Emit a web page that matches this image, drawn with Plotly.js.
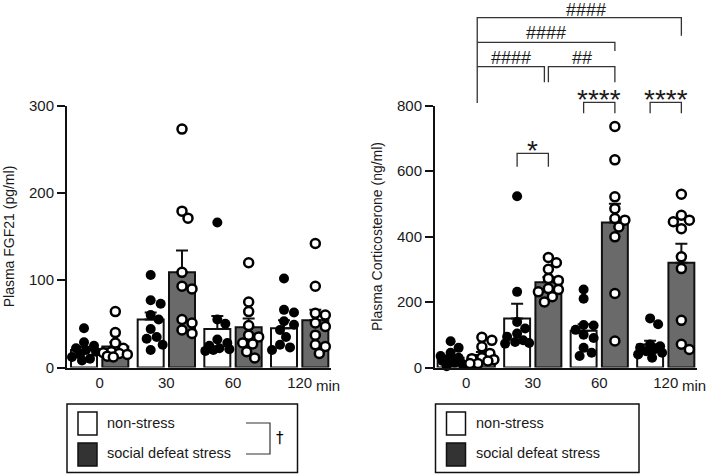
<!DOCTYPE html>
<html><head><meta charset="utf-8">
<script src="https://cdn.plot.ly/plotly-3.0.1.min.js"></script>
<style>html,body{margin:0;padding:0;background:#fff}#chart{width:709px;height:474px}</style>
</head><body><div id="chart"></div>
<script>
// ---------- data ----------
const timepoints = ['0', '30', '60', '120'];
const groupNames = ['non-stress', 'social defeat stress'];

const fgf21NonStressMean = [20, 55, 44, 45];
const fgf21NonStressSem  = [3.5, 8, 15, 9];
const fgf21StressMean    = [24, 109, 46, 54];
const fgf21StressSem     = [5, 25, 10, 12];
const fgf21NonStressPoints = [
  [45, 29, 25, 22, 20, 18, 15, 12, 10, 8],
  [106, 77, 73, 60, 55, 44, 35, 33, 26, 20],
  [166, 55, 50, 32, 28, 25, 22, 21, 20, 19],
  [102, 66, 63, 53, 49, 43, 35, 26, 23, 20]
];
const fgf21StressPoints = [
  [64, 40, 28, 22, 18, 17, 16, 15, 13, 12],
  [273, 179, 171, 109, 93, 90, 55, 51, 43, 39],
  [120, 75, 64, 48, 37, 35, 28, 27, 18, 11],
  [142, 93, 62, 60, 51, 47, 37, 26, 24, 16]
];

const corticoNonStressMean = [30, 150, 112, 70];
const corticoNonStressSem  = [7, 45, 20, 12];
const corticoStressMean    = [38, 260, 443, 320];
const corticoStressSem     = [9, 16, 57, 58];
const corticoNonStressPoints = [
  [80, 60, 45, 35, 30, 24, 20, 15, 10, 4],
  [523, 231, 139, 119, 104, 94, 83, 78, 75, 73],
  [238, 210, 130, 128, 115, 100, 90, 60, 45, 35],
  [150, 132, 70, 65, 60, 55, 50, 45, 40, 30]
];
const corticoStressPoints = [
  [92, 83, 63, 43, 30, 27, 24, 20, 12, 12],
  [336, 320, 300, 272, 266, 241, 238, 231, 216, 200],
  [736, 634, 521, 485, 455, 450, 429, 399, 226, 81],
  [529, 465, 450, 445, 424, 338, 302, 144, 71, 55]
];

const fgf21Ticks   = [0, 100, 200, 300];
const corticoTicks = [0, 200, 400, 600, 800];
const starLabels = ['*', '****', '****'];            // non-stress vs stress at 30, 60, 120
const hashLabels = ['####', '####', '####', '##'];   // 0-120, 0-60, 0-30, 30-60 (stress)
const interactionLabel = '\u2020';

// ---------- geometry ----------
const W = 709, H = 474;
const FONT = 'Liberation Sans, Arial, Helvetica, sans-serif';
const TXT = '#1a1a1a';
const px = p => p / W;
const py = p => (H - p) / H;
const yDom = [py(367.5), py(105.5)];
const xDom1 = [px(67), px(331)], xRange1 = [-0.49, 3.47];
const xDom2 = [px(435), px(697)], xRange2 = [-0.47, 3.47];
const OFF = 0.235, BARW = 0.39;
const idx = timepoints.map((t, i) => i);

function swarm(values, pxPerUnit, pxPerX, diam, maxHalf) {
  const placed = [];
  const order = values.map((v, i) => i).sort((a, b) => values[b] - values[a]);
  const offs = new Array(values.length).fill(0);
  const step = 2, n = Math.floor(maxHalf / step);
  for (const i of order) {
    const y = values[i] * pxPerUnit;
    let best = 0, bestScore = -Infinity;
    for (let k = 0; k <= 2 * n; k++) {
      const cand = (k % 2 === 1 ? 1 : -1) * Math.ceil(k / 2) * step;
      let minD = Infinity;
      for (const p of placed) minD = Math.min(minD, Math.hypot(p.x - cand, p.y - y));
      if (minD >= diam) { best = cand; break; }
      if (minD > bestScore) { bestScore = minD; best = cand; }
    }
    placed.push({x: best, y});
    offs[i] = best / pxPerX;
  }
  return offs;
}

function panelTraces(nsMean, nsSem, sMean, sSem, nsPts, sPts, xa, ya, xDom, xRange, yMax) {
  const pxPerX = (xDom[1] - xDom[0]) * W / (xRange[1] - xRange[0]);
  const pxPerUnit = (yDom[1] - yDom[0]) * H / yMax;
  const errStyle = {type: 'data', symmetric: false, color: '#111', thickness: 2, width: 6};
  const bars = [
    {type: 'bar', x: idx.map(i => i - OFF), y: nsMean, width: BARW, xaxis: xa, yaxis: ya,
     marker: {color: '#ffffff', line: {color: '#111', width: 2}},
     error_y: Object.assign({array: nsSem, arrayminus: nsSem.map(() => 0)}, errStyle),
     name: groupNames[0], showlegend: false, hoverinfo: 'skip'},
    {type: 'bar', x: idx.map(i => i + OFF), y: sMean, width: BARW, xaxis: xa, yaxis: ya,
     marker: {color: '#6a6a6a', line: {color: '#111', width: 2}},
     error_y: Object.assign({array: sSem, arrayminus: sSem.map(() => 0)}, errStyle),
     name: groupNames[1], showlegend: false, hoverinfo: 'skip'}
  ];
  function pts(arr, side, filled) {
    const xs = [], ys = [];
    arr.forEach((vals, g) => {
      const offs = swarm(vals, pxPerUnit, pxPerX, 9, 12);
      vals.forEach((v, j) => { xs.push(g + side * OFF + offs[j]); ys.push(v); });
    });
    return {type: 'scatter', mode: 'markers', x: xs, y: ys, xaxis: xa, yaxis: ya, cliponaxis: false,
      showlegend: false, hoverinfo: 'skip',
      marker: filled ? {size: 10, color: '#000', line: {width: 0}}
                     : {size: 9, color: '#fff', line: {color: '#000', width: 2.5}}};
  }
  return bars.concat([pts(nsPts, -1, true), pts(sPts, 1, false)]);
}

const traces = []
  .concat(panelTraces(fgf21NonStressMean, fgf21NonStressSem, fgf21StressMean, fgf21StressSem,
                      fgf21NonStressPoints, fgf21StressPoints, 'x', 'y', xDom1, xRange1, 300))
  .concat(panelTraces(corticoNonStressMean, corticoNonStressSem, corticoStressMean, corticoStressSem,
                      corticoNonStressPoints, corticoStressPoints, 'x2', 'y2', xDom2, xRange2, 800));

function yAxis(title, ticks, anchor) {
  return {domain: yDom, anchor: anchor, range: [0, ticks[ticks.length - 1]], tickvals: ticks,
    showline: true, linewidth: 2, linecolor: '#111', ticks: 'outside', ticklen: 8, tickwidth: 2,
    tickcolor: '#111', showgrid: false, zeroline: false, fixedrange: true,
    tickfont: {family: FONT, size: 15, color: TXT},
    title: {text: title, font: {family: FONT, size: 14, color: TXT}, standoff: 11}};
}
function xAxis(dom, range, anchor) {
  return {domain: dom, range: range, anchor: anchor, tickvals: idx, ticktext: timepoints,
    showline: true, linewidth: 2, linecolor: '#111', ticks: '', showgrid: false, zeroline: false,
    fixedrange: true, tickfont: {family: FONT, size: 15, color: TXT}};
}

// ---------- brackets & legend ----------
const shapes = [], annotations = [];
function line(xref, pts, w, color) {
  const d = pts.map((p, i) => (i ? 'L' : 'M') + p[0] + ',' + p[1]).join(' ');
  shapes.push({type: 'path', xref: xref, yref: 'paper', path: d, line: {color: color || '#333', width: w || 1.3}});
}
function label(xref, x, yPx, text, size, xshift) {
  annotations.push({xref: xref, yref: 'paper', x: x, y: py(yPx), text: text, showarrow: false,
    xanchor: 'center', yanchor: 'middle', xshift: xshift || 0,
    font: {family: FONT, size: size, color: TXT}});
}
const ns = i => i - OFF, st = i => i + OFF;
// stress vs non-stress at 30, 60, 120
[[1, 166.7, 153.3, 150.5], [2, 113.3, 102.3, 99.5], [3, 113.3, 102.3, 99.5]].forEach((b, k) => {
  const g = b[0];
  line('x2', [[ns(g), py(b[1])], [ns(g), py(b[2])], [st(g), py(b[2])], [st(g), py(b[1])]]);
  label('x2', (ns(g) + st(g)) / 2, b[3], starLabels[k], 28, 0);
});
// stress time comparisons vs 0 min
const L0 = st(0) - 0.07;
line('x2', [[L0, py(103)], [L0, py(17.7)], [st(3), py(17.7)], [st(3), py(35.7)]]);
line('x2', [[L0, py(42.3)], [st(2), py(42.3)], [st(2), py(51)]]);
line('x2', [[L0, py(66.7)], [st(1) - 0.06, py(66.7)], [st(1) - 0.06, py(82.3)]]);
line('x2', [[st(1), py(82.3)], [st(1), py(66.7)], [st(2), py(66.7)], [st(2), py(82.3)]]);
label('x2', (L0 + st(3)) / 2, 10, hashLabels[0], 18, 7);
label('x2', (L0 + st(2)) / 2, 33, hashLabels[1], 18, 0);
label('x2', (L0 + st(1) - 0.06) / 2, 58.5, hashLabels[2], 18, 0);
label('x2', (st(1) + st(2)) / 2, 58.5, hashLabels[3], 18, 0);

// "min" unit after the last tick of each panel
['x', 'x2'].forEach(xr => annotations.push({xref: xr, yref: 'paper', x: 3, y: py(385), text: 'min',
  showarrow: false, xanchor: 'left', yanchor: 'middle', xshift: 14,
  font: {family: FONT, size: 15, color: TXT}}));

// legend boxes
function legend(x0, x1, withDagger) {
  shapes.push({type: 'rect', xref: 'paper', yref: 'paper', x0: px(x0), x1: px(x1), y0: py(472.5), y1: py(404),
    line: {color: '#111', width: 1.5}, fillcolor: 'rgba(0,0,0,0)'});
  shapes.push({type: 'rect', xref: 'paper', yref: 'paper', x0: px(x0 + 11), x1: px(x0 + 30), y0: py(435), y1: py(412),
    line: {color: '#111', width: 1.5}, fillcolor: '#ffffff'});
  shapes.push({type: 'rect', xref: 'paper', yref: 'paper', x0: px(x0 + 11), x1: px(x0 + 30), y0: py(466), y1: py(443),
    line: {color: '#111', width: 1.5}, fillcolor: '#333333'});
  [[groupNames[0], 423], [groupNames[1], 453]].forEach(t => annotations.push({xref: 'paper', yref: 'paper',
    x: px(x0 + 38), y: py(t[1]), text: t[0], showarrow: false, xanchor: 'left', yanchor: 'middle',
    font: {family: FONT, size: 14.5, color: TXT}}));
  if (withDagger) {
    shapes.push({type: 'path', xref: 'paper', yref: 'paper',
      path: 'M' + px(246) + ',' + py(423) + ' L' + px(270) + ',' + py(423) + ' L' + px(270) + ',' + py(454) + ' L' + px(246) + ',' + py(454),
      line: {color: '#333', width: 1.2}});
    annotations.push({xref: 'paper', yref: 'paper', x: px(280), y: py(438), text: interactionLabel,
      showarrow: false, xanchor: 'center', yanchor: 'middle', font: {family: 'DejaVu Sans, sans-serif', size: 15, color: '#000'}});
  }
}
legend(67, 297.5, true);
legend(435.5, 639, false);

const layout = {
  width: W, height: H, autosize: false, margin: {l: 0, r: 0, t: 0, b: 0},
  paper_bgcolor: '#fff', plot_bgcolor: 'rgba(0,0,0,0)', showlegend: false, barmode: 'overlay',
  font: {family: FONT, color: TXT},
  xaxis: xAxis(xDom1, xRange1, 'y'), yaxis: yAxis('Plasma FGF21 (pg/ml)', fgf21Ticks, 'x'),
  xaxis2: xAxis(xDom2, xRange2, 'y2'), yaxis2: yAxis('Plasma Corticosterone (ng/ml)', corticoTicks, 'x2'),
  shapes: shapes, annotations: annotations
};
Plotly.newPlot('chart', traces, layout, {staticPlot: true, displayModeBar: false});
</script></body></html>
